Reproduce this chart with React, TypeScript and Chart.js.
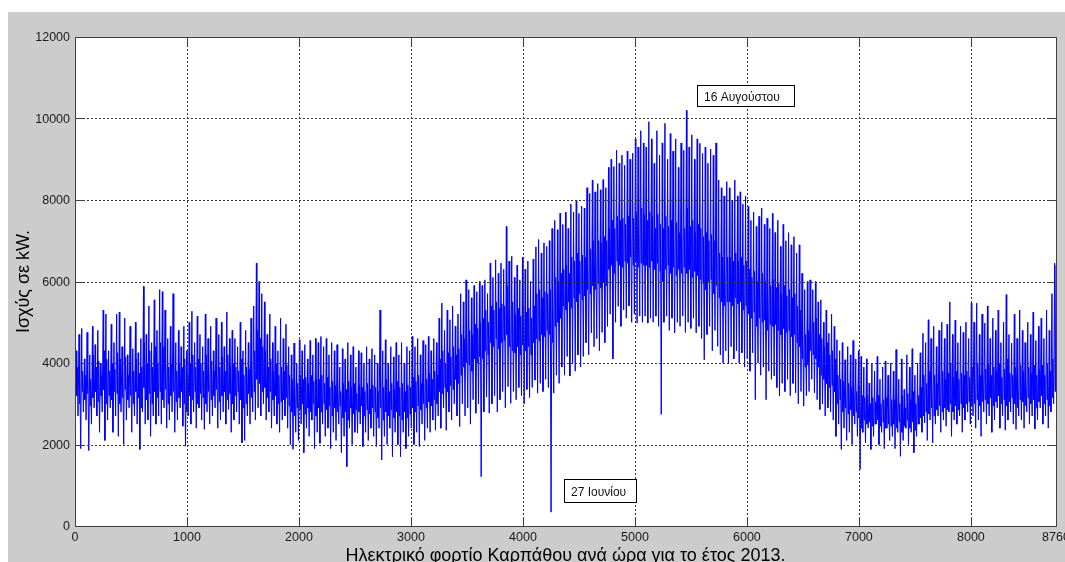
import React, { useEffect, useRef } from "react";
import { Chart, registerables } from "chart.js";

Chart.register(...registerables);

// ---- Data (kW): per day a night minimum, the daily peak,
// ---- an afternoon dip and an evening level ----
const janPeak = [4300, 4700, 4850, 4100, 4750, 4200, 4900, 4450, 4800, 4000, 5300, 5200, 4300, 4950, 4500, 5200, 5250, 4400, 5100, 4200, 4900, 4350, 5000, 4250, 4600, 5880, 4700, 5400, 4500, 5550, 4800];
const janLow = [2900, 2700, 1900, 2800, 2600, 1850, 2500, 2900, 2700, 2300, 2800, 2100, 2600, 2900, 2300, 2700, 2200, 2800, 2000, 2600, 2900, 2300, 2700, 2500, 1880, 2800, 2500, 2600, 2200, 2700, 2500];
const janDip = [3200, 3000, 3300, 3100, 3250, 2950, 3150, 3300, 3050, 3200, 3350, 3000, 3200, 3100, 3300, 3250, 3000, 3150, 3350, 3100, 3200, 3000, 3300, 3150, 2900, 3400, 3100, 3250, 3000, 3300, 3150];
const janEve = [3900, 4100, 3800, 3700, 4000, 3600, 4200, 3900, 4050, 3700, 4300, 4100, 3800, 4000, 3850, 4250, 4100, 3900, 4150, 3700, 4000, 3800, 4100, 3750, 3900, 4500, 4000, 4300, 3900, 4400, 4000];

const febPeak = [5800, 5750, 5300, 4600, 4900, 5700, 4500, 4800, 4400, 4900, 4300, 5000, 5270, 4500, 5150, 4700, 4400, 5200, 4600, 4900, 4300, 5100, 4700, 5000, 4400, 5250, 4600, 4800];
const febLow = [2700, 2500, 2900, 2400, 2600, 2800, 2300, 2600, 2900, 2450, 1960, 2700, 2500, 2800, 2400, 2900, 2600, 2370, 2800, 2500, 2700, 2900, 2400, 2600, 2800, 2500, 2860, 2300];
const febDip = [3300, 3100, 3350, 3000, 3200, 3300, 3050, 3150, 3300, 3000, 2800, 3200, 3100, 3300, 3000, 3250, 3150, 3000, 3300, 3100, 3200, 3350, 3050, 3200, 3300, 3100, 3250, 3000];
const febEve = [4500, 4400, 4200, 3900, 4000, 4400, 3800, 4000, 3900, 4100, 3700, 4000, 4200, 3900, 4100, 4000, 3800, 4200, 3900, 4050, 3800, 4100, 3900, 4150, 3800, 4200, 3950, 4000];

const marPeak = [4600, 4400, 5000, 4300, 4800, 4500, 5100, 5400, 6450, 6000, 5700, 5500, 4700, 5200, 4500, 4900, 4300, 5100, 4600, 4950, 4400, 4200, 4490, 4000, 4570, 4300, 4450, 4100, 4550, 4200, 4600];
const marLow = [2600, 2800, 2500, 2040, 2100, 2700, 2500, 2800, 2600, 2900, 2700, 3000, 2600, 2800, 2400, 2700, 2500, 2300, 2600, 2700, 2400, 2000, 1880, 2300, 2100, 2500, 1800, 2400, 2200, 2600, 1900];
const marDip = [3200, 3300, 3100, 2900, 3000, 3250, 3150, 3300, 3600, 3500, 3300, 3400, 3150, 3300, 3100, 3200, 3000, 3050, 3100, 3150, 2950, 2800, 2700, 2900, 2850, 3000, 2750, 2900, 2800, 3000, 2700];
const marEve = [3900, 3800, 4100, 3700, 3900, 3850, 4100, 4300, 4800, 4600, 4400, 4300, 3900, 4100, 3800, 4000, 3700, 3900, 3800, 3950, 3700, 3600, 3650, 3500, 3700, 3600, 3650, 3500, 3700, 3550, 3600];

const aprPeak = [4500, 4650, 4400, 4600, 4200, 4500, 4300, 4450, 3900, 4350, 4100, 4500, 4200, 4400, 3900, 4300, 4250, 4000, 4400, 4100, 4350, 4200, 4000, 5300, 4300, 4570, 4000, 4400, 4150, 4500];
const aprLow = [2300, 2030, 2500, 2200, 2400, 1900, 2300, 2100, 2500, 1800, 2200, 1460, 2400, 2000, 2300, 2280, 2500, 1950, 2300, 2100, 2400, 2200, 1950, 2400, 1620, 2200, 2000, 2400, 1700, 2300];
const aprDip = [2900, 2800, 3000, 2850, 2950, 2700, 2900, 2800, 2950, 2650, 2800, 2600, 2900, 2750, 2850, 2800, 2950, 2700, 2850, 2750, 2900, 2800, 2650, 2900, 2600, 2800, 2700, 2850, 2650, 2800];
const aprEve = [3600, 3700, 3500, 3650, 3400, 3550, 3450, 3600, 3300, 3500, 3350, 3550, 3400, 3500, 3250, 3450, 3400, 3300, 3500, 3350, 3450, 3400, 3300, 3800, 3400, 3600, 3300, 3500, 3350, 3550];

const mayPeak = [4200, 4500, 4000, 4400, 4300, 4650, 4400, 4600, 4200, 4550, 4450, 4650, 4300, 4600, 4500, 5100, 5470, 4800, 5300, 5060, 5400, 4900, 5200, 5700, 5500, 6040, 5800, 5600, 5900, 5750, 6000];
const mayLow = [2000, 1700, 2300, 1900, 2200, 2400, 2000, 2300, 1950, 2500, 2100, 2400, 2300, 2600, 2350, 2700, 2400, 2900, 2350, 2800, 2600, 3000, 2700, 2440, 3000, 2700, 2900, 2500, 3100, 2770, 3000];
const mayDip = [2700, 2600, 2800, 2650, 2750, 2900, 2800, 2950, 2850, 3000, 2900, 3050, 2950, 3100, 3000, 3300, 3250, 3400, 3300, 3450, 3350, 3600, 3500, 3700, 3900, 4000, 3950, 3800, 4100, 4000, 4150];
const mayEve = [3400, 3500, 3300, 3450, 3400, 3650, 3550, 3700, 3500, 3650, 3600, 3750, 3600, 3800, 3700, 4100, 4300, 4000, 4250, 4150, 4400, 4200, 4350, 4700, 4600, 4900, 4800, 4700, 4950, 4850, 5000];

const junPeak = [5900, 6040, 5700, 6450, 6100, 6530, 6200, 6450, 6300, 7350, 6500, 6620, 6100, 6400, 6040, 6600, 6300, 6500, 6000, 6550, 6850, 7030, 6700, 6950, 6860, 7000, 7300, 7500, 7270, 7680];
const junLow = [1210, 2800, 3170, 2770, 3000, 3200, 2800, 3100, 3300, 2900, 3420, 3010, 3300, 3100, 3400, 3200, 3000, 3350, 3150, 3400, 3580, 3260, 3500, 3300, 3600, 3400, 340, 3260, 3700, 3500];
const junDip = [4100, 4300, 4200, 4500, 4400, 4600, 4350, 4500, 4550, 4700, 4400, 4300, 4250, 4400, 4200, 4450, 4300, 4400, 4200, 4500, 4600, 4550, 4700, 4650, 4800, 4700, 4500, 4900, 5000, 5100];
const junEve = [5100, 5300, 5000, 5400, 5300, 5500, 5350, 5450, 5400, 5900, 5400, 5500, 5200, 5350, 5150, 5400, 5250, 5350, 5100, 5400, 5700, 5800, 5600, 5750, 5700, 5800, 5900, 6100, 6000, 6200];

const julPeak = [7400, 7700, 7300, 7900, 7700, 8000, 7670, 7850, 7800, 8300, 8160, 8490, 8200, 8400, 8250, 8500, 8300, 8800, 9000, 8820, 9220, 8900, 9100, 8850, 9200, 9000, 9150, 9500, 9300, 9700, 9400];
const julLow = [3900, 3700, 4160, 3680, 4000, 3800, 4200, 3900, 4160, 4500, 4200, 4740, 4400, 4600, 4300, 4750, 4500, 4900, 5200, 4100, 5000, 5390, 4900, 5300, 5100, 5400, 5000, 5200, 4980, 5150, 5000];
const julDip = [5400, 5300, 5500, 5350, 5600, 5500, 5700, 5550, 5650, 5800, 5700, 5900, 5800, 5950, 5850, 6000, 5900, 6300, 6400, 6200, 6500, 6400, 6350, 6500, 6450, 6600, 6400, 6500, 6350, 6450, 6400];
const julEve = [6300, 6400, 6200, 6600, 6500, 6700, 6500, 6650, 6600, 6900, 6800, 7000, 6900, 7000, 6950, 7100, 7000, 7300, 7500, 7300, 7600, 7500, 7550, 7400, 7600, 7500, 7550, 7700, 7600, 7800, 7650];

const augPeak = [9300, 9920, 9500, 8900, 9700, 9100, 9400, 9880, 9000, 9630, 9200, 9500, 8800, 9400, 9220, 10200, 9300, 9600, 9000, 9500, 9390, 9140, 9300, 8900, 9250, 9100, 9400, 8490, 8300, 8100, 8450];
const augLow = [5150, 4980, 5100, 5000, 5150, 4900, 2740, 5000, 5150, 4800, 5100, 4740, 5000, 4900, 5150, 4750, 5000, 4850, 5100, 4740, 4900, 4600, 4080, 4700, 4900, 4300, 4800, 4410, 4200, 4000, 4300];
const augDip = [6400, 6350, 6500, 6300, 6450, 6250, 6000, 6300, 6400, 6200, 6350, 6150, 6300, 6200, 6350, 6200, 6300, 6100, 6250, 6150, 6050, 5950, 5800, 6000, 6050, 5700, 5900, 5600, 5500, 5400, 5500];
const augEve = [7500, 7700, 7600, 7300, 7650, 7400, 7300, 7600, 7350, 7500, 7400, 7450, 7200, 7400, 7300, 7800, 7350, 7500, 7200, 7400, 7300, 7100, 7200, 7000, 7150, 7000, 7200, 6700, 6600, 6500, 6600];

const sepPeak = [8300, 8000, 8490, 8100, 8200, 7900, 8100, 7840, 7500, 7700, 7350, 7600, 7800, 7400, 7550, 7300, 7670, 7200, 7500, 6860, 7400, 7000, 7200, 6900, 7100, 6700, 6900, 6200, 5800, 6000];
const sepLow = [4000, 4400, 4100, 4300, 4000, 4250, 3900, 4100, 3800, 4250, 3100, 4000, 3700, 3900, 3100, 3800, 3600, 3680, 3400, 3190, 3500, 3300, 3600, 3200, 3500, 3270, 3000, 3300, 2940, 3200];
const sepDip = [5500, 5400, 5600, 5450, 5500, 5300, 5400, 5200, 5100, 5250, 4900, 5100, 5000, 5050, 4800, 4950, 4900, 4950, 4800, 4700, 4850, 4750, 4800, 4650, 4700, 4500, 4400, 4100, 3900, 3950];
const sepEve = [6600, 6500, 6700, 6500, 6600, 6400, 6500, 6300, 6100, 6250, 6000, 6150, 6200, 6000, 6100, 5900, 6050, 5850, 5950, 5700, 5900, 5650, 5800, 5600, 5700, 5400, 5300, 4900, 4700, 4800];

const octPeak = [6040, 5800, 6000, 5500, 5550, 5000, 5300, 4730, 5200, 4900, 4570, 4300, 4500, 4080, 4400, 4200, 4550, 4100, 4300, 4160, 3900, 4100, 3510, 4000, 3800, 4160, 3600, 3900, 4050, 3700, 4000];
const octLow = [3300, 3600, 3270, 3100, 2860, 3000, 2700, 2900, 2800, 2600, 2200, 2500, 1880, 2400, 2100, 2300, 2000, 2500, 2200, 1390, 2300, 2040, 2400, 1880, 2200, 2500, 2000, 2300, 1900, 2400, 2100];
const octDip = [4300, 4200, 4100, 3900, 3700, 3600, 3500, 3400, 3450, 3300, 3000, 3100, 2800, 2900, 2750, 2850, 2700, 2800, 2650, 2400, 2600, 2500, 2550, 2450, 2500, 2600, 2450, 2550, 2400, 2500, 2450];
const octEve = [5200, 5000, 5100, 4700, 4600, 4400, 4500, 4200, 4300, 4100, 3700, 3600, 3550, 3400, 3500, 3400, 3550, 3300, 3400, 3200, 3150, 3200, 3000, 3150, 3050, 3200, 3000, 3100, 3150, 3000, 3100];

const novPeak = [3800, 4330, 3600, 4100, 3350, 4200, 3900, 4350, 3700, 4000, 4250, 4730, 4500, 5060, 4600, 4900, 4400, 4800, 5000, 4600, 4950, 5500, 4700, 5050, 4500, 4900, 4750, 5000, 4600, 5470];
const novLow = [2200, 1900, 2300, 1710, 2100, 2400, 2000, 2300, 1800, 2200, 2500, 2300, 2530, 2100, 2600, 2040, 2500, 2700, 2300, 2600, 2450, 2800, 2200, 2600, 2500, 2700, 2300, 2600, 2800, 2500];
const novDip = [2500, 2400, 2550, 2300, 2450, 2600, 2400, 2550, 2350, 2500, 2650, 2700, 2800, 2750, 2900, 2700, 2850, 2950, 2800, 2900, 2850, 3000, 2800, 2950, 2850, 3000, 2900, 3000, 3050, 2950];
const novEve = [3100, 3300, 3000, 3200, 2900, 3250, 3100, 3300, 3000, 3200, 3400, 3700, 3500, 3800, 3600, 3700, 3500, 3750, 3800, 3600, 3750, 4000, 3650, 3800, 3600, 3750, 3700, 3800, 3650, 3900];

const decPeak = [5000, 5470, 4700, 5200, 4980, 5400, 4600, 5100, 4800, 5300, 4500, 5000, 5680, 4700, 4490, 5200, 4600, 5300, 4800, 4500, 5000, 4700, 5250, 4550, 4900, 5100, 4600, 5300, 4800, 5700, 6450];
const decLow = [2700, 2400, 2600, 2200, 2800, 2500, 2700, 2300, 2600, 2900, 2400, 2700, 2350, 2600, 2800, 2500, 2370, 2700, 2600, 2400, 2800, 2500, 2700, 2380, 2600, 2900, 2500, 2700, 2400, 2800, 3000];
const decDip = [3000, 3100, 2950, 3050, 3100, 3000, 3150, 2950, 3050, 3200, 3000, 3100, 2950, 3050, 3150, 3000, 2900, 3100, 3050, 2950, 3150, 3000, 3100, 2900, 3050, 3200, 3000, 3100, 2950, 3150, 3300];
const decEve = [3800, 4000, 3700, 3900, 3850, 4000, 3700, 3900, 3800, 4000, 3650, 3850, 4100, 3750, 3700, 3900, 3700, 3950, 3800, 3650, 3900, 3750, 3950, 3700, 3850, 3950, 3700, 4000, 3800, 4100, 4300];

const monthPeaks = [janPeak, febPeak, marPeak, aprPeak, mayPeak, junPeak, julPeak, augPeak, sepPeak, octPeak, novPeak, decPeak];
const monthLows = [janLow, febLow, marLow, aprLow, mayLow, junLow, julLow, augLow, sepLow, octLow, novLow, decLow];
const monthDips = [janDip, febDip, marDip, aprDip, mayDip, junDip, julDip, augDip, sepDip, octDip, novDip, decDip];
const monthEves = [janEve, febEve, marEve, aprEve, mayEve, junEve, julEve, augEve, sepEve, octEve, novEve, decEve];

// hour of day at which each daily value occurs
const lowHour = 3;
const peakHour = 12;
const dipHour = 16;
const eveHour = 20;
const edgeHours = [0, 8760];
const edgeValues = [3600, 6400];

const xTicks = [0, 1000, 2000, 3000, 4000, 5000, 6000, 7000, 8000, 8760];
const yTicks = [0, 2000, 4000, 6000, 8000, 10000, 12000];

const noteLabels = ["16 Αυγούστου", "27 Ιουνίου"];
const noteHours = [5554, 4367];
const noteValues = [10822, 1153];

const xTitle = "Ηλεκτρικό φορτίο Καρπάθου ανά ώρα για το έτος 2013.";
const yTitle = "Ισχύς σε kW.";

const FONT = '"Liberation Sans", Arial, sans-serif';

function buildPoints() {
  const peaks = monthPeaks.flat();
  const lows = monthLows.flat();
  const dips = monthDips.flat();
  const eves = monthEves.flat();
  const pts: { x: number; y: number }[] = [{ x: edgeHours[0], y: edgeValues[0] }];
  for (let d = 0; d < peaks.length; d++) {
    pts.push({ x: d * 24 + lowHour, y: lows[d] });
    pts.push({ x: d * 24 + peakHour, y: peaks[d] });
    pts.push({ x: d * 24 + dipHour, y: dips[d] });
    pts.push({ x: d * 24 + eveHour, y: eves[d] });
  }
  pts.push({ x: edgeHours[1], y: edgeValues[1] });
  return pts;
}

const matlabPlugin = {
  id: "matlabLook",
  beforeDraw(chart: any) {
    const { ctx, width, height, chartArea: a } = chart;
    ctx.save();
    ctx.fillStyle = "#cccccc";
    ctx.fillRect(0, 0, width, height);
    ctx.fillStyle = "#ffffff";
    ctx.fillRect(a.left, a.top, a.right - a.left, a.bottom - a.top);
    ctx.restore();
  },
  afterDatasetsDraw(chart: any) {
    const { ctx, chartArea: a } = chart;
    const xs = chart.scales.x;
    const ys = chart.scales.y;
    ctx.save();
    // dotted grid (drawn over the data as in the original)
    ctx.strokeStyle = "#333333";
    ctx.lineWidth = 1;
    ctx.setLineDash([2, 2]);
    xTicks.forEach((v) => {
      if (v <= xs.min || v >= xs.max) return;
      const x = Math.round(xs.getPixelForValue(v)) + 0.5;
      ctx.beginPath();
      ctx.moveTo(x, a.top);
      ctx.lineTo(x, a.bottom);
      ctx.stroke();
    });
    yTicks.forEach((v) => {
      if (v <= ys.min || v >= ys.max) return;
      const y = Math.round(ys.getPixelForValue(v)) + 0.5;
      ctx.beginPath();
      ctx.moveTo(a.left, y);
      ctx.lineTo(a.right, y);
      ctx.stroke();
    });
    ctx.setLineDash([]);

    // axes box
    ctx.strokeStyle = "#404040";
    const L = a.left + 0.5, R = a.right + 0.5, T = a.top + 0.5, B = a.bottom + 0.5;
    ctx.beginPath();
    ctx.rect(L, T, R - L, B - T);
    ctx.stroke();
    // inward tick marks
    const tl = 9;
    ctx.beginPath();
    xTicks.forEach((v) => {
      const x = Math.round(xs.getPixelForValue(v)) + 0.5;
      ctx.moveTo(x, B);
      ctx.lineTo(x, B - tl);
      ctx.moveTo(x, T);
      ctx.lineTo(x, T + tl);
    });
    yTicks.forEach((v) => {
      const y = Math.round(ys.getPixelForValue(v)) + 0.5;
      ctx.moveTo(L, y);
      ctx.lineTo(L + tl, y);
      ctx.moveTo(R, y);
      ctx.lineTo(R - tl, y);
    });
    ctx.stroke();

    // tick labels
    ctx.fillStyle = "#1a1a1a";
    ctx.font = `12.5px ${FONT}`;
    ctx.textBaseline = "alphabetic";
    ctx.textAlign = "right";
    yTicks.forEach((v) => {
      const y = ys.getPixelForValue(v);
      ctx.fillText(String(v), a.left - 5, y + 4);
    });
    ctx.textAlign = "center";
    xTicks.forEach((v) => {
      const x = xs.getPixelForValue(v);
      ctx.fillText(String(v), x, a.bottom + 14.5);
    });

    // axis titles
    ctx.fillStyle = "#000000";
    ctx.font = `18px ${FONT}`;
    ctx.textAlign = "center";
    ctx.fillText(xTitle, (a.left + a.right) / 2, a.bottom + 34.5);
    ctx.save();
    ctx.translate(a.left - 46.5, (a.top + a.bottom) / 2);
    ctx.rotate(-Math.PI / 2);
    ctx.fillText(yTitle, 0, 0);
    ctx.restore();

    // annotation boxes
    ctx.font = `12px ${FONT}`;
    ctx.textAlign = "left";
    const boxW = [97, 72];
    const boxH = [21, 23];
    noteLabels.forEach((txt, i) => {
      const x = Math.round(xs.getPixelForValue(noteHours[i])) + 0.5;
      const y = Math.round(ys.getPixelForValue(noteValues[i])) + 0.5;
      ctx.fillStyle = "#ffffff";
      ctx.fillRect(x, y, boxW[i], boxH[i]);
      ctx.strokeStyle = "#000000";
      ctx.strokeRect(x, y, boxW[i], boxH[i]);
      ctx.fillStyle = "#111111";
      ctx.fillText(txt, x + 6.5, y + boxH[i] / 2 + 4.5);
    });
    ctx.restore();
  },
};

export default function App() {
  const canvasRef = useRef<HTMLCanvasElement | null>(null);

  useEffect(() => {
    const canvas = canvasRef.current;
    if (!canvas) return;
    const chart = new Chart(canvas, {
      type: "line",
      data: {
        datasets: [
          {
            data: buildPoints(),
            borderColor: "#0000ff",
            borderWidth: 1,
            pointRadius: 0,
            fill: false,
            tension: 0,
          },
        ],
      },
      options: {
        animation: false,
        responsive: false,
        devicePixelRatio: 1,
        parsing: false,
        events: [],
        layout: { padding: { left: 67, top: 25, right: 9, bottom: 36 } },
        plugins: { legend: { display: false }, tooltip: { enabled: false } },
        scales: {
          x: { type: "linear", min: 0, max: 8760, display: false },
          y: { type: "linear", min: 0, max: 12000, display: false },
        },
      },
      plugins: [matlabPlugin],
    } as any);
    return () => chart.destroy();
  }, []);

  return (
    <div style={{ position: "absolute", left: 8, top: 12, width: 1057, height: 550 }}>
      <canvas ref={canvasRef} width={1057} height={550} style={{ display: "block", width: 1057, height: 550 }} />
    </div>
  );
}
